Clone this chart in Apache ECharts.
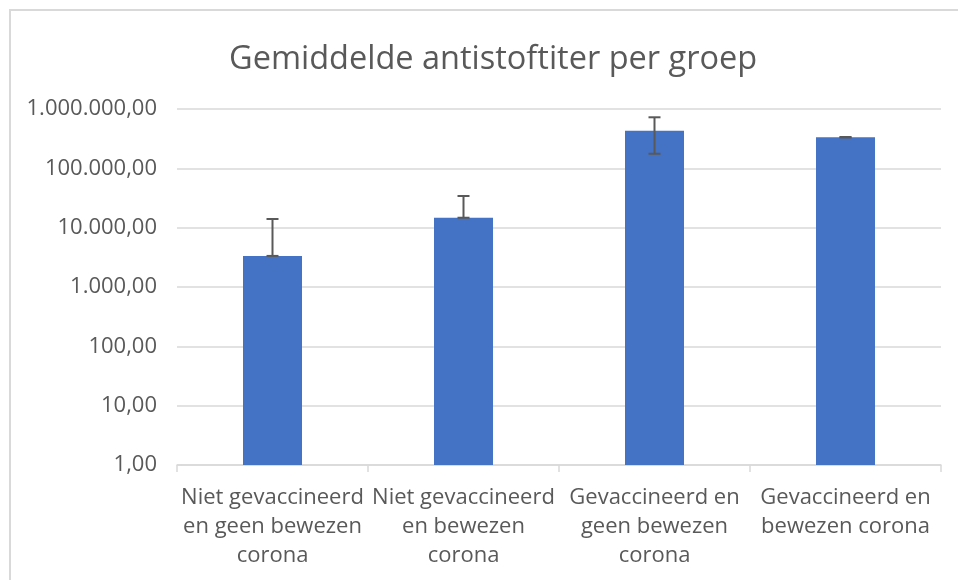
<!DOCTYPE html>
<html><head><meta charset="utf-8">
<script src="https://cdn.jsdelivr.net/npm/echarts@6/dist/echarts.min.js"></script>
<style>html,body{margin:0;padding:0;background:#fff}#c{width:958px;height:580px}</style>
</head><body><div id="c"></div>
<script>
const categories = ["Niet gevaccineerd\nen geen bewezen\ncorona", "Niet gevaccineerd\nen bewezen\ncorona", "Gevaccineerd en\ngeen bewezen\ncorona", "Gevaccineerd en\nbewezen corona"];
const values = [3340, 14700, 431000, 334000];
const errLow = [3340, 14700, 176000, 331000];
const errHigh = [14000, 34200, 725000, 337000];
const yTicks = [1, 10, 100, 1000, 10000, 100000, 1000000];

const fontFam = "'Open Sans', sans-serif";
function fmt(v){
  const r = Math.round(v);
  return String(r).replace(/\B(?=(\d{3})+(?!\d))/g, '.') + ',00';
}
const chart = echarts.init(document.getElementById('c'), null, {renderer:'canvas'});
chart.setOption({
  animation:false,
  backgroundColor:'#fff',
  title:{text:'Gemiddelde antistoftiter per groep', left:224, top:38,
    textStyle:{fontFamily:"'Open Sans', sans-serif", fontWeight:'normal', fontSize:32.5, color:'#595959'}},
  graphic:[{type:'rect', shape:{x:10,y:10,width:1000,height:700}, style:{fill:'none', stroke:'#d9d9d9', lineWidth:2}, silent:true}],
  grid:{left:177, right:17, top:109, bottom:115},
  xAxis:{type:'category', data:categories,
    axisLine:{lineStyle:{color:'#d9d9d9', width:1.5}},
    axisTick:{show:true, length:7, lineStyle:{color:'#d9d9d9', width:1.5}},
    axisLabel:{color:'#595959', fontSize:22, fontFamily:fontFam, lineHeight:29, margin:18, interval:0}},
  yAxis:{type:'log', logBase:10, min:1, max:1000000,
    axisLine:{show:false}, axisTick:{show:false},
    splitLine:{lineStyle:{color:'#d9d9d9', width:1.5}},
    axisLabel:{color:'#595959', fontSize:22, fontFamily:fontFam, margin:20, formatter:fmt}},
  series:[
    {type:'bar', data:values, barWidth:59, itemStyle:{color:'#4472c4'}},
    {type:'custom', data:categories.map((c,i)=>[i, errLow[i], errHigh[i]]),
     renderItem:function(params, api){
       const lo = api.coord([api.value(0), api.value(1)]);
       const hi = api.coord([api.value(0), api.value(2)]);
       const x = lo[0], hw = 6;
       const st = {stroke:'#595959', lineWidth:2};
       return {type:'group', children:[
         {type:'line', shape:{x1:x, y1:lo[1], x2:x, y2:hi[1]}, style:st},
         {type:'line', shape:{x1:x-hw, y1:lo[1], x2:x+hw, y2:lo[1]}, style:st},
         {type:'line', shape:{x1:x-hw, y1:hi[1], x2:x+hw, y2:hi[1]}, style:st}
       ]};
     }, z:10}
  ]
});
</script></body></html>
